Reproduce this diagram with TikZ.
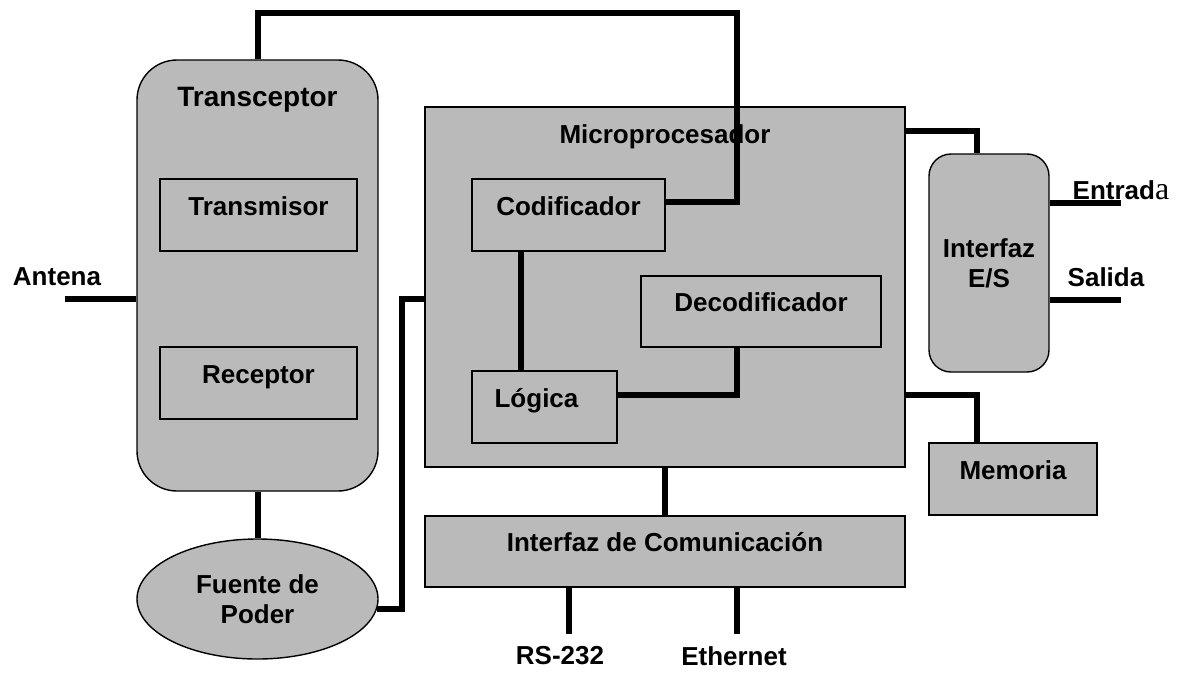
\documentclass[tikz,border=0pt]{standalone}
\usepackage{fontspec}
\setmainfont{Liberation Sans}
\newfontfamily\serifa{Liberation Serif}
\usetikzlibrary{positioning,shapes.geometric,calc}

\newcommand{\lblfont}{\bfseries\fontsize{26}{30}\selectfont}
\newcommand{\bigfont}{\bfseries\fontsize{28}{32}\selectfont}

\begin{document}
\begin{tikzpicture}[
  x=1pt, y=-1pt,
  every node/.style={font=\lblfont},
  blk/.style={draw, line width=1.4pt, top color=black!27, middle color=black!44, bottom color=black!27, align=center},
  boxlbl/.style={blk, text height=20pt, text depth=20pt},
  txt/.style={inner sep=0pt, align=center},
  wire/.style={line width=6pt, line join=miter}
]
\useasboundingbox (0,0) rectangle (1182,672);

% transceptor side
\node[blk, rounded corners=40pt, minimum width=241pt, minimum height=431pt] (trx) at (257.5,275.5) {};
\node[txt, font=\bigfont] (trxlbl) [below=28pt of trx.north] {Transceptor};
\node[boxlbl, minimum width=197pt, minimum height=72pt] (tx) at (258.5,215) {Transmisor};
\node[boxlbl, minimum width=197pt, minimum height=72pt] (rx) at (258.5,383) {Receptor};
\node[blk, ellipse, minimum width=241pt, minimum height=120pt, inner sep=0pt] (fp) at (257.5,599) {Fuente de\\Poder};

% microprocesador
\node[blk, minimum width=480pt, minimum height=360pt] (micro) at (665,287) {};
\node[txt] (microlbl) [below=18pt of micro.north] {Microprocesador};
\node[boxlbl, minimum width=193pt, minimum height=72pt] (cod) at (568.5,215) {Codificador};
\node[boxlbl, minimum width=240pt, minimum height=71pt] (dec) at (761,311.5) {Decodificador};
\node[boxlbl, minimum width=145pt, minimum height=72pt] (log) at (544.5,407) {L\'ogica\hspace{16pt}};

% perifericos
\node[blk, rounded corners=22pt, minimum width=120pt, minimum height=218pt] (ies) at (989,263) {Interfaz\\E/S};
\node[boxlbl, minimum width=168pt, minimum height=72pt] (mem) at (1013,479) {Memoria};
\node[boxlbl, minimum width=480pt, minimum height=71pt] (com) at (665,551.5) {Interfaz de Comunicaci\'on};

% etiquetas libres
\node[txt] (ant) at (57,277) {Antena};
\node[txt] (entlbl) at (1121,190) {Entrad{\serifa\mdseries\fontsize{32}{34}\selectfont a}};
\node[txt] (sallbl) at (1106,277) {Salida};
\node[txt] (rslbl) at (560,656) {RS-232};
\node[txt] (ethlbl) at (734,656) {Ethernet};

\coordinate (antend) at (65,299);
\coordinate (bus) at (737,13);
\coordinate (cl) at (521,0);
\coordinate (entend) at (1121,203);
\coordinate (salend) at (1121,300);
\coordinate (rsend) at (569,634);
\coordinate (ethend) at (737,634);

\draw[wire] (antend) -- (trx.west |- antend);
\draw[wire] (trx.north) |- (bus) |- ([yshift=13pt]cod.east);
\draw[wire] (trx.south) -- (fp.north);
\draw[wire] (fp.-5) -| (402,299) -- ([yshift=-12pt]micro.west);
\draw[wire] (cl |- cod.south) -- (cl |- log.north);
\draw[wire] (bus |- dec.south) |- ([yshift=12pt]log.east);
\draw[wire] ([yshift=156pt]micro.east) -| ([xshift=-12pt]ies.north);
\draw[wire] ([yshift=-108pt]micro.east) -| ([xshift=-36pt]mem.north);
\draw[wire] ([yshift=60pt]ies.east) -- (entend);
\draw[wire] ([yshift=-37pt]ies.east) -- (salend);
\draw[wire] (micro.south) -- (com.north);
\draw[wire] (rsend |- com.south) -- (rsend);
\draw[wire] (ethend |- com.south) -- (ethend);
\end{tikzpicture}
\end{document}
